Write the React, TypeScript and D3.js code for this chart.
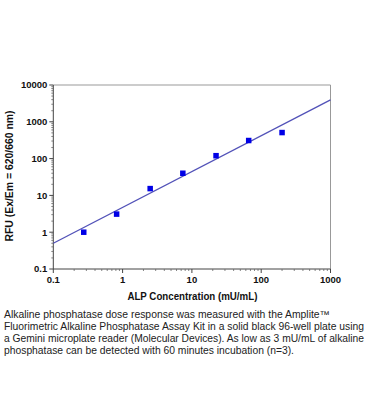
import React from "react";
import * as d3 from "d3";

const concentrations = [0.275, 0.82, 2.5, 7.4, 22.3, 66, 200];
const rfuValues = [1, 3.1, 15.3, 40, 120, 310, 510];
const fitX = [0.1, 1000];
const fitY = [0.5, 3940];
const xTicks = [0.1, 1, 10, 100, 1000];
const yTicks = [0.1, 1, 10, 100, 1000, 10000];
const xTickLabels = ["0.1", "1", "10", "100", "1000"];
const yTickLabels = ["0.1", "1", "10", "100", "1000", "10000"];
const xTitle = "ALP Concentration (mU/mL)";
const yTitle = "RFU (Ex/Em = 620/660 nm)";
const captionLines = [
  "Alkaline phosphatase dose response was measured with the Amplite\u2122",
  "Fluorimetric Alkaline Phosphatase Assay Kit in a solid black 96-well plate using",
  "a Gemini microplate reader (Molecular Devices). As low as 3 mU/mL of alkaline",
  "phosphatase can be detected with 60 minutes incubation (n=3).",
];
const captionWidths = [326, 360, 360, 290];

const W = 369;
const H = 419;
const left = 53.3;
const right = 330.5;
const top = 85;
const bottom = 269;

function minorTicks(domain: number[]) {
  const out: number[] = [];
  for (let e = Math.log10(domain[0]); e < Math.log10(domain[1]) - 0.001; e++) {
    const base = Math.pow(10, Math.round(e));
    for (let k = 2; k <= 9; k++) out.push(base * k);
  }
  return out;
}

export default function App() {
  const x = d3.scaleLog().domain([0.1, 1000]).range([left, right]);
  const y = d3.scaleLog().domain([0.1, 10000]).range([bottom, top]);
  const line = d3
    .line<number>()
    .x((_, i) => x(fitX[i]))
    .y((d) => y(d));
  const font = "Arial, 'Liberation Sans', sans-serif";
  const xMinor = minorTicks([0.1, 1000]);
  const yMinor = minorTicks([0.1, 10000]);
  const ms = 5.5;
  return (
    <svg
      width={W}
      height={H}
      style={{ position: "absolute", left: 0, top: 0, background: "#fff" }}
      fontFamily={font}
    >
      <rect x={0} y={0} width={W} height={H} fill="#fff" />
      {/* box */}
      <line x1={left} x2={right} y1={top} y2={top} stroke="#999" strokeWidth={1} />
      <line x1={right} x2={right} y1={top} y2={bottom} stroke="#999" strokeWidth={1} />
      <line x1={left} x2={left} y1={top} y2={bottom} stroke="#444" strokeWidth={1} />
      <line x1={left} x2={right} y1={bottom} y2={bottom} stroke="#444" strokeWidth={1} />
      {/* y ticks */}
      {yTicks.map((t, i) => (
        <g key={"yt" + i}>
          <line x1={left - 4} x2={left} y1={y(t)} y2={y(t)} stroke="#444" />
          <text
            x={left - 6}
            y={y(t)}
            dy="0.35em"
            textAnchor="end"
            fontSize={9.5}
            fontWeight="bold"
            fill="#111"
          >
            {yTickLabels[i]}
          </text>
        </g>
      ))}
      {yMinor.map((t, i) => (
        <line key={"ym" + i} x1={left - 2} x2={left} y1={y(t)} y2={y(t)} stroke="#666" strokeWidth={0.8} />
      ))}
      {/* x ticks */}
      {xTicks.map((t, i) => (
        <g key={"xt" + i}>
          <line x1={x(t)} x2={x(t)} y1={bottom} y2={bottom + 4} stroke="#444" />
          <text
            x={x(t)}
            y={bottom + 14}
            textAnchor="middle"
            fontSize={9.5}
            fontWeight="bold"
            fill="#111"
          >
            {xTickLabels[i]}
          </text>
        </g>
      ))}
      {xMinor.map((t, i) => (
        <line key={"xm" + i} x1={x(t)} x2={x(t)} y1={bottom} y2={bottom + 2} stroke="#666" strokeWidth={0.8} />
      ))}
      {/* fit line */}
      <path d={line(fitY) || ""} fill="none" stroke="#5252b8" strokeWidth={1.3} />
      {/* points */}
      {concentrations.map((c, i) => (
        <rect
          key={"p" + i}
          x={x(c) - ms / 2}
          y={y(rfuValues[i]) - ms / 2}
          width={ms}
          height={ms}
          fill="#0000e6"
        />
      ))}
      {/* titles */}
      <text
        x={(left + right) / 2 + 0.5}
        y={300}
        textAnchor="middle"
        fontSize={10}
        fontWeight="bold"
        fill="#111"
        textLength={130}
        lengthAdjust="spacingAndGlyphs"
      >
        {xTitle}
      </text>
      <text
        transform={`translate(12.5, 176) rotate(-90)`}
        textAnchor="middle"
        fontSize={10}
        fontWeight="bold"
        fill="#111"
        textLength={131}
        lengthAdjust="spacingAndGlyphs"
      >
        {yTitle}
      </text>
      {/* caption */}
      {captionLines.map((l, i) => (
        <text
          key={"c" + i}
          x={4}
          y={317.5 + i * 12}
          fontSize={10}
          fill="#222"
          textLength={captionWidths[i]}
          lengthAdjust="spacingAndGlyphs"
        >
          {l}
        </text>
      ))}
    </svg>
  );
}
